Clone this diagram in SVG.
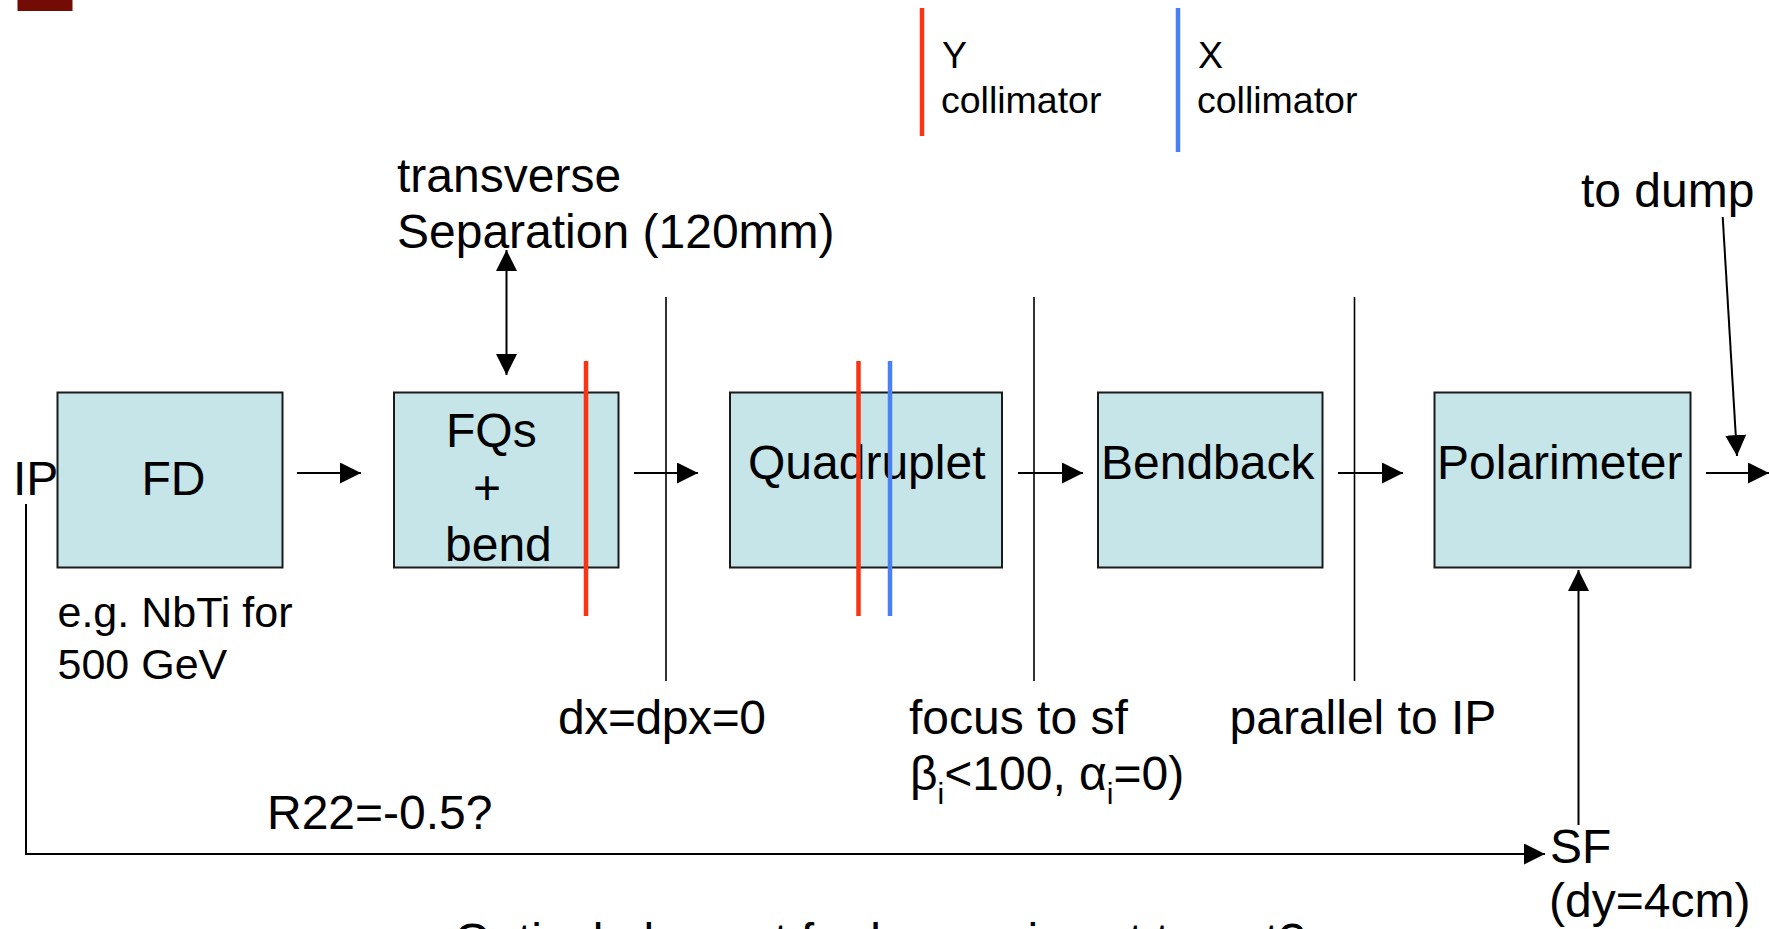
<svg xmlns="http://www.w3.org/2000/svg" width="1769" height="929" viewBox="0 0 1769 929">
<style>
text{font-family:"Liberation Sans",Arial,sans-serif;fill:#000}
.t48{font-size:48px}
.t43{font-size:43px}
.t37{font-size:37.5px}
.box{fill:#c6e5e8;stroke:#1a1a1a;stroke-width:2}
.ln{stroke:#000;stroke-width:2;fill:none}
.thin{stroke:#000;stroke-width:1.6;fill:none}
.red{stroke:#fa3412;stroke-width:4.5}
.blue{stroke:#4a80f2;stroke-width:4.5}
.sub{font-size:30px}
</style>
<defs>
<marker id="ah" markerUnits="userSpaceOnUse" markerWidth="21" markerHeight="21" refX="21" refY="10.5" orient="auto-start-reverse">
<path d="M0,0 L21,10.5 L0,21 Z" fill="#000"/>
</marker>
</defs>
<rect x="17.5" y="-2" width="55" height="13" fill="#730c05"/>
<g id="legend">
<line class="red" x1="922" y1="8" x2="922" y2="136"/>
<text class="t37" x="942" y="68">Y</text>
<text class="t37" x="941" y="113">collimator</text>
<line class="blue" x1="1178" y1="8" x2="1178" y2="152"/>
<text class="t37" x="1198" y="68">X</text>
<text class="t37" x="1197" y="113">collimator</text>
</g>
<g id="connectors">
<line class="ln" x1="297" y1="473" x2="361" y2="473" marker-end="url(#ah)"/>
<line class="ln" x1="634" y1="473" x2="698" y2="473" marker-end="url(#ah)"/>
<line class="ln" x1="1018" y1="473" x2="1083" y2="473" marker-end="url(#ah)"/>
<line class="ln" x1="1338" y1="473" x2="1403" y2="473" marker-end="url(#ah)"/>
<line class="ln" x1="1706" y1="473" x2="1769" y2="473" marker-end="url(#ah)"/>
<line class="ln" x1="506.5" y1="250" x2="506.5" y2="375" marker-start="url(#ah)" marker-end="url(#ah)"/>
<line class="ln" x1="1722.7" y1="217" x2="1737" y2="456" marker-end="url(#ah)"/>
<polyline class="ln" points="26,504 26,854 1545,854" marker-end="url(#ah)"/>
<line class="ln" x1="1578.5" y1="825" x2="1578.5" y2="570" marker-end="url(#ah)"/>
<line class="thin" x1="666" y1="297" x2="666" y2="681"/>
<line class="thin" x1="1034" y1="297" x2="1034" y2="681"/>
<line class="thin" x1="1354.5" y1="297" x2="1354.5" y2="681"/>
</g>
<g id="ip"><text class="t48" x="13" y="495">IP</text></g>
<g id="fd">
<rect class="box" x="57.5" y="392.5" width="225" height="175"/>
<text class="t48" x="141.5" y="495">FD</text>
</g>
<g id="fqs">
<rect class="box" x="394" y="392.5" width="224.5" height="175"/>
<text class="t48" x="446" y="447">FQs</text>
<text class="t48" x="473" y="504">+</text>
<text class="t48" x="445" y="561">bend</text>
</g>
<g id="quadruplet">
<rect class="box" x="730" y="392.5" width="272" height="175"/>
<text class="t48" x="748" y="479">Quadruplet</text>
</g>
<g id="bendback">
<rect class="box" x="1098" y="392.5" width="224.5" height="175"/>
<text class="t48" x="1101" y="479">Bendback</text>
</g>
<g id="polarimeter">
<rect class="box" x="1434.5" y="392.5" width="256" height="175"/>
<text class="t48" x="1437" y="479">Polarimeter</text>
</g>
<g id="collimators">
<line class="red" x1="586" y1="361" x2="586" y2="616"/>
<line class="red" x1="858.5" y1="361" x2="858.5" y2="616"/>
<line class="blue" x1="890" y1="361" x2="890" y2="616"/>
</g>
<g id="labels">
<text class="t48" x="397" y="192">transverse</text>
<text class="t48" x="397" y="248">Separation (120mm)</text>
<text class="t48" x="1581" y="207">to dump</text>
<text class="t43" x="57.5" y="627">e.g. NbTi for</text>
<text class="t43" x="57.5" y="679">500 GeV</text>
<text class="t48" x="558" y="734" textLength="208" lengthAdjust="spacing">dx=dpx=0</text>
<text class="t48" x="909" y="734">focus to sf</text>
<text class="t48" x="910" y="790">β<tspan class="sub" dy="14">i</tspan><tspan dy="-14">&lt;100, α</tspan><tspan class="sub" dy="14">i</tspan><tspan dy="-14">=0)</tspan></text>
<text class="t48" x="1229.5" y="734">parallel to IP</text>
<text class="t48" x="267" y="829">R22=-0.5?</text>
<text class="t48" x="1550" y="863">SF</text>
<text class="t48" x="1549" y="917">(dy=4cm)</text>
<text class="t48" x="454" y="957">Optical element for beam size at target?</text>
</g>
</svg>
